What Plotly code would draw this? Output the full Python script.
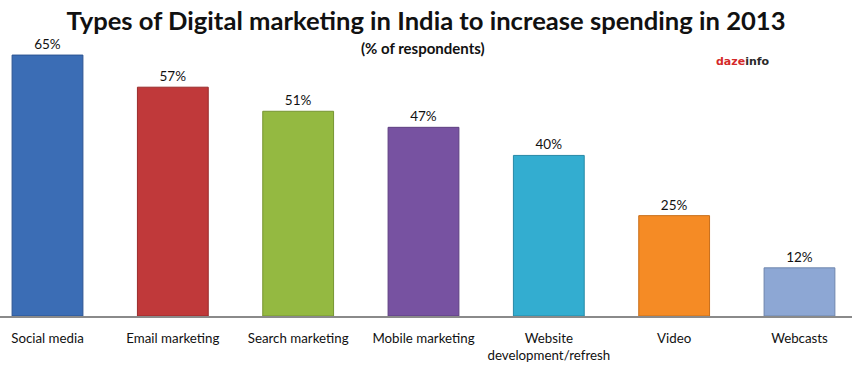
import plotly.graph_objects as go

categories = ["Social media", "Email marketing", "Search marketing", "Mobile marketing",
              "Website<br>development/refresh", "Video", "Webcasts"]
values = [65, 57, 51, 47, 40, 25, 12]
labels = ["65%", "57%", "51%", "47%", "40%", "25%", "12%"]
colors = ["#3b6db5", "#c0393a", "#94b941", "#7752a1", "#33add0", "#f58b25", "#8da7d4"]
edges = ["#2c5491", "#992b2b", "#769532", "#5d3f80", "#2789a6", "#c86e1a", "#6f86ad"]

x = list(range(len(categories)))

W, H = 852, 369
T, B = 35, 53
plot_h = H - T - B


def py(pix):
    """pixel row (from top) -> paper y"""
    return (H - B - pix) / plot_h


fig = go.Figure()
fig.add_trace(go.Bar(
    x=x, y=values, width=0.565,
    marker=dict(color=colors, line=dict(color=edges, width=1)),
    text=labels, textposition="outside", cliponaxis=False,
    textfont=dict(family="Lato, Open Sans, sans-serif", size=13.5, color="#111"),
    hoverinfo="skip",
))

fig.update_layout(
    width=W, height=H,
    margin=dict(l=0, r=0, t=T, b=B),
    paper_bgcolor="white", plot_bgcolor="white",
    showlegend=False,
    title=dict(text="<b>Types of Digital marketing in India to increase spending in 2013</b>",
               x=0.5, xanchor="center", y=1 - 21 / H, yanchor="middle",
               font=dict(family="Lato, Open Sans, sans-serif", size=25.6, color="#111")),
    font=dict(family="Lato, Open Sans, sans-serif", color="#111"),
    xaxis=dict(range=[-0.379, 6.419], tickmode="array", tickvals=x, ticktext=categories,
               showline=True, linecolor="#8a8a8a", linewidth=1.5, ticks="",
               ticklabelstandoff=9,
               tickfont=dict(size=13.3, color="#111"), showgrid=False, zeroline=False),
    yaxis=dict(range=[0, 70], visible=False, showgrid=False, zeroline=False),
    annotations=[
        dict(text="<b>(% of respondents)</b>", x=0.497, xref="paper", y=py(48), yref="paper",
             yanchor="middle", showarrow=False,
             font=dict(size=15, color="#111")),
        dict(text="<b><span style='color:#d42a2a'>daze</span><span style='color:#2a2a2a'>info</span></b>",
             x=743 / W, xref="paper", xanchor="center", y=py(61), yref="paper", yanchor="middle",
             showarrow=False,
             font=dict(family="DejaVu Sans, sans-serif", size=11)),
    ],
)

fig.write_html("out.html", config={"displayModeBar": False},
               post_script="document.body.style.margin='0';")
